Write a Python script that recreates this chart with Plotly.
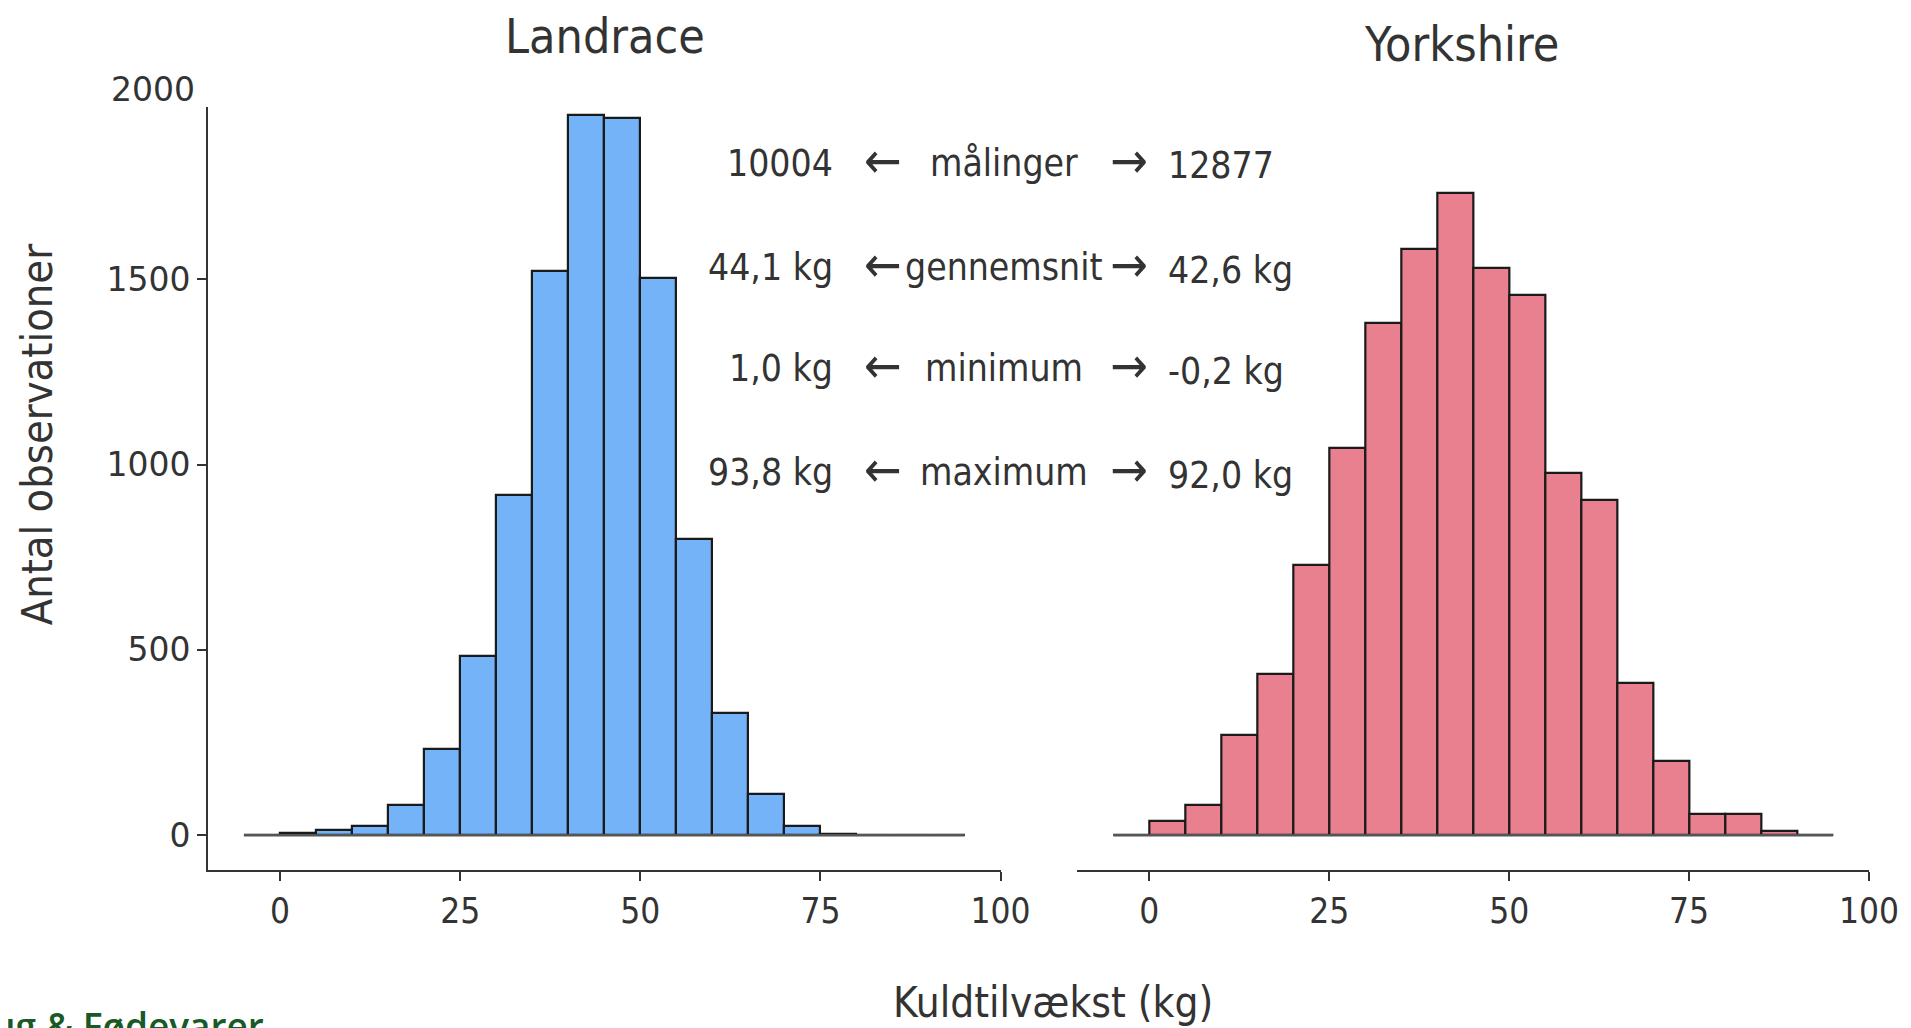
import plotly.graph_objects as go
from plotly.subplots import make_subplots

# Histogram data: bins of 5 kg from -5 to 95
bin_edges = list(range(-5, 100, 5))
bin_centers = [(a + b) / 2 for a, b in zip(bin_edges[:-1], bin_edges[1:])]

landrace_counts = [0, 5, 13, 26, 82, 233, 483, 918, 1523, 1944, 1934,
                   1503, 799, 329, 112, 26, 4, 1, 0, 1]
yorkshire_counts = [1, 39, 82, 270, 434, 730, 1046, 1382, 1582, 1734, 1530,
                    1457, 977, 905, 411, 201, 56, 56, 10, 1]

panel_titles = ["Landrace", "Yorkshire"]
x_ticks = [0, 25, 50, 75, 100]
y_ticks = [0, 500, 1000, 1500]

stat_labels = ["målinger", "gennemsnit", "minimum", "maximum"]
landrace_stats = ["10004", "44,1 kg", "1,0 kg", "93,8 kg"]
yorkshire_stats = ["12877", "42,6 kg", "-0,2 kg", "92,0 kg"]

BLUE = "#74b3f7"
PINK = "#e8808f"
TXT = "#333333"
COND = "DejaVu Sans Condensed, Liberation Sans Narrow, sans-serif"

fig = make_subplots(rows=1, cols=2, shared_yaxes=False, horizontal_spacing=0)

for col, counts, color in [(1, landrace_counts, BLUE), (2, yorkshire_counts, PINK)]:
    fig.add_trace(go.Scatter(
        x=[bin_edges[0], bin_edges[-1]], y=[0, 0], mode="lines",
        line=dict(color="#555555", width=2.5), hoverinfo="skip",
        showlegend=False), row=1, col=col)
    fig.add_trace(go.Bar(
        x=bin_centers, y=counts, width=5,
        marker=dict(color=color, line=dict(color="#1a1a1a", width=2.2)),
        showlegend=False), row=1, col=col)

# page body adds an 8px margin, so work in window pixels minus 8
OFF = 8
W, H = 1911 - OFF, 1028 - OFF
L, R, T, B = 208 - OFF, 1872 - OFF, 107 - OFF, 870 - OFF
pw, ph = R - L, B - T


def px(x):
    return (x - OFF - L) / pw


def py(y):
    return (B - (y - OFF)) / ph


fig.update_layout(
    width=W, height=H,
    margin=dict(l=L, r=W - R, t=T, b=H - B),
    plot_bgcolor="white", paper_bgcolor="white",
    bargap=0,
    font=dict(family=COND, color=TXT),
)

fig.update_xaxes(range=[-10, 100], tickvals=x_ticks, showgrid=False,
                 zeroline=False, showline=True, linecolor=TXT, linewidth=2,
                 ticks="outside", ticklen=9, tickwidth=2, tickcolor=TXT,
                 tickfont=dict(family=COND, size=35, color=TXT))
fig.layout.xaxis.domain = [0, px(1002)]
fig.layout.xaxis2.domain = [px(1079), 1]

fig.update_yaxes(range=[-94, 1965], tickvals=y_ticks, showgrid=False,
                 zeroline=False)
fig.update_yaxes(showline=True, linecolor=TXT, linewidth=2, ticks="outside",
                 ticklen=9, tickwidth=2, tickcolor=TXT,
                 tickfont=dict(family="DejaVu Sans", size=33, color=TXT),
                 row=1, col=1)
fig.update_yaxes(visible=False, matches="y", row=1, col=2)


def note(x, y, text, size, xanchor="center", yanchor="middle", **kw):
    font = kw.pop("font", dict(size=size, color=TXT))
    return dict(x=px(x), y=py(y), xref="paper", yref="paper", text=text,
                xanchor=xanchor, yanchor=yanchor, showarrow=False,
                font=font, **kw)


ann = []
# "2000" label at top of y axis
ann.append(note(197, 89, "2000", 33, xanchor="right",
                font=dict(family="DejaVu Sans", size=33, color=TXT)))
# panel titles
ann.append(note(606, 36, panel_titles[0], 48))
ann.append(note(1464, 44, panel_titles[1], 48))
# axis titles
ann.append(note(37, 435, "Antal observationer", 43, textangle=-90))
ann.append(note(1055, 1002, "Kuldtilvækst (kg)", 42))
# summary statistics
row_y = [163, 267, 368, 472]
for lab, lv, rv, yy in zip(stat_labels, landrace_stats, yorkshire_stats, row_y):
    ann.append(note(836, yy, lv, 37, xanchor="right"))
    ann.append(note(884, yy - 2, "←", 50))
    ann.append(note(1005, yy, lab, 37))
    ann.append(note(1131, yy - 2, "→", 50))
    ann.append(note(1168, yy + 3, rv, 37, xanchor="left"))
# cut-off logo text bottom left
ann.append(note(266, 998, "Landbrug & Fødevarer", 37, xanchor="right",
                yanchor="top",
                font=dict(family="Open Sans", size=37, color="#175a27",
                          weight=600)))

fig.update_layout(annotations=ann)

fig.write_html("out.html")
